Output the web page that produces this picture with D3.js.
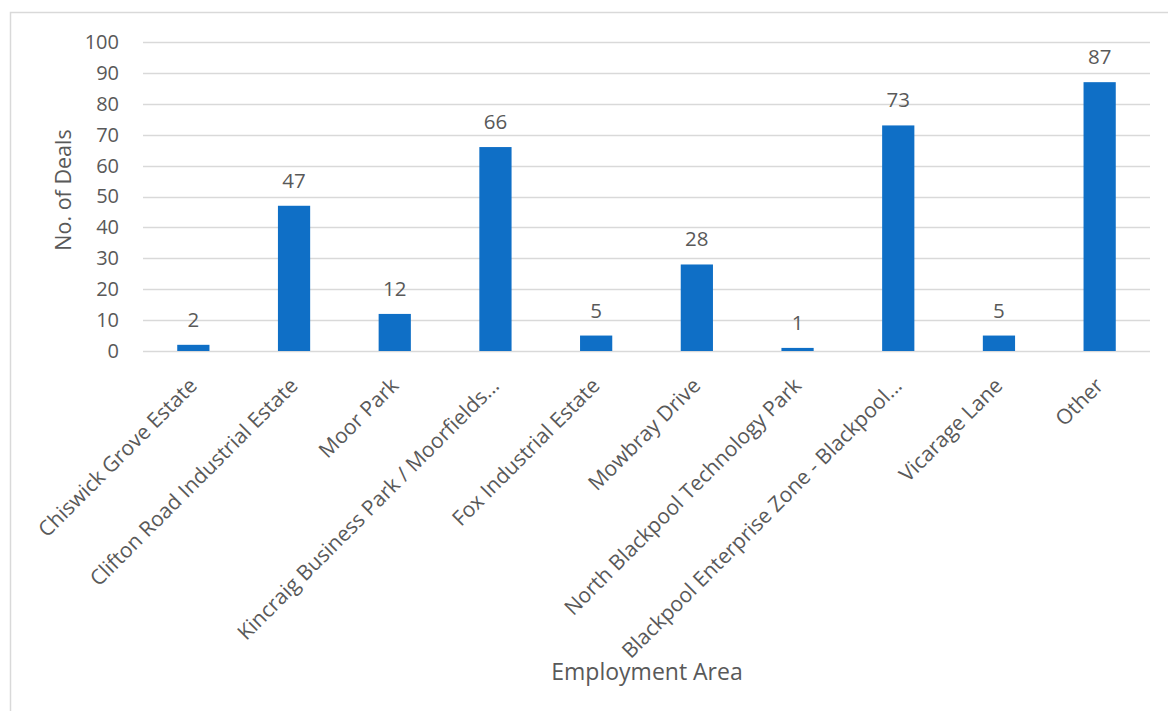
<!DOCTYPE html>
<html>
<head>
<meta charset="utf-8">
<script src="https://cdn.jsdelivr.net/npm/d3@7"></script>
<style>
  html, body { margin: 0; padding: 0; background: #fff; }
  svg { display: block; }
  text { font-family: "Open Sans", Lato, sans-serif; fill: #595959; }
</style>
</head>
<body>
<svg id="chart" width="1168" height="711"></svg>
<script>
// Deals per employment area
const categories = [
  "Chiswick Grove Estate",
  "Clifton Road Industrial Estate",
  "Moor Park",
  "Kincraig Business Park / Moorfields...",
  "Fox Industrial Estate",
  "Mowbray Drive",
  "North Blackpool Technology Park",
  "Blackpool Enterprise Zone - Blackpool...",
  "Vicarage Lane",
  "Other"
];
const deals = [2, 47, 12, 66, 5, 28, 1, 73, 5, 87];
const yTicks = [0, 10, 20, 30, 40, 50, 60, 70, 80, 90, 100];

const FONT = "'Open Sans', Lato, sans-serif";
const svg = d3.select("#chart");
const plot = { left: 143, right: 1150, top: 42, bottom: 351 };

// outer chart frame
svg.append("rect")
  .attr("x", 10.5).attr("y", 12.5)
  .attr("width", 1200).attr("height", 760)
  .attr("fill", "none")
  .attr("stroke", "#d9d9d9")
  .attr("stroke-width", 1.5);

const x = d3.scaleBand()
  .domain(categories)
  .range([plot.left, plot.right])
  .paddingInner(0.68)
  .paddingOuter(0.34);

const y = d3.scaleLinear()
  .domain([0, 100])
  .range([plot.bottom, plot.top]);

// horizontal gridlines
svg.append("g")
  .selectAll("line")
  .data(yTicks)
  .join("line")
  .attr("x1", plot.left).attr("x2", plot.right)
  .attr("y1", d => Math.round(y(d)) + 0.5)
  .attr("y2", d => Math.round(y(d)) + 0.5)
  .attr("stroke", "#d9d9d9")
  .attr("stroke-width", 1.3);

// y axis tick labels
const yAxis = svg.append("g")
  .attr("transform", `translate(${plot.left - 24},0)`)
  .call(d3.axisLeft(y).tickValues(yTicks).tickSize(0).tickPadding(0));
yAxis.select(".domain").remove();
yAxis.selectAll("text")
  .style("font-family", FONT)
  .style("font-size", "20px")
  .attr("fill", "#595959");

// bars
svg.append("g")
  .selectAll("rect")
  .data(deals)
  .join("rect")
  .attr("x", (d, i) => x(categories[i]))
  .attr("y", d => y(d))
  .attr("width", x.bandwidth())
  .attr("height", d => y(0) - y(d))
  .attr("fill", "#0f6fc6");

// value labels
svg.append("g")
  .selectAll("text")
  .data(deals)
  .join("text")
  .attr("x", (d, i) => x(categories[i]) + x.bandwidth() / 2)
  .attr("y", d => y(d) - 18)
  .attr("text-anchor", "middle")
  .style("font-size", "20.5px")
  .attr("fill", "#404040")
  .text(d => d);

// x axis category labels, rotated
const xAxis = svg.append("g")
  .attr("transform", `translate(0,${plot.bottom})`)
  .call(d3.axisBottom(x).tickSize(0).tickPadding(0));
xAxis.select(".domain").remove();
xAxis.selectAll("text")
  .style("font-family", FONT)
  .style("font-size", "21px")
  .attr("fill", "#595959")
  .attr("text-anchor", "end")
  .attr("dy", null)
  .attr("transform", "translate(5,36) rotate(-45)");

// axis titles
svg.append("text")
  .attr("x", 647).attr("y", 680)
  .attr("text-anchor", "middle")
  .style("font-size", "23px")
  .text("Employment Area");

svg.append("text")
  .attr("transform", `translate(71,190) rotate(-90)`)
  .attr("text-anchor", "middle")
  .style("font-size", "21.5px")
  .text("No. of Deals");
</script>
</body>
</html>
